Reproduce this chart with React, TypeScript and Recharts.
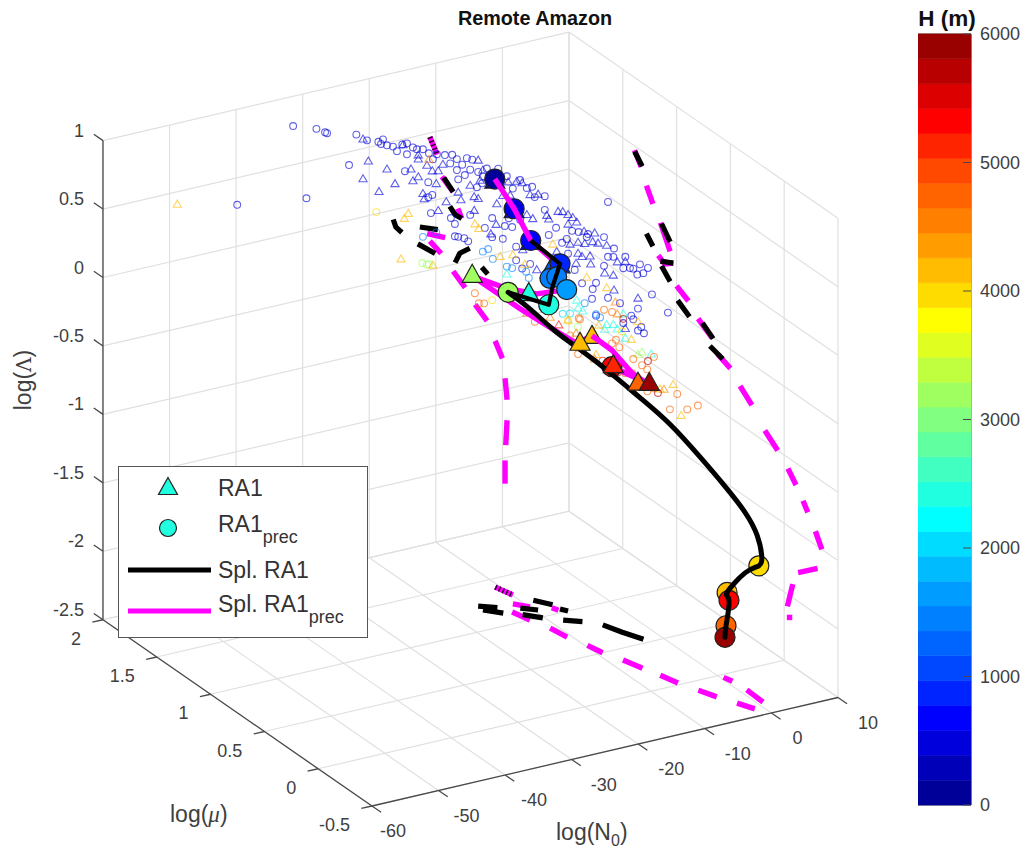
import { Bar, BarChart, ReferenceArea, Scatter, ScatterChart, XAxis, YAxis } from 'recharts'

// axis ticks
const N0_TICKS = [-60, -50, -40, -30, -20, -10, 0, 10]
const MU_TICKS = [-0.5, 0, 0.5, 1, 1.5, 2]
const LAMBDA_TICKS = [-2.5, -2, -1.5, -1, -0.5, 0, 0.5, 1]
const H_TICKS = [0, 1000, 2000, 3000, 4000, 5000, 6000]

// colormap, 31 levels from H = 0 up
const JET_BANDS = [
  '#000099', '#0000b8', '#0000dc', '#0000ff', '#0024ff', '#0048ff', '#0064ff', '#0080ff',
  '#009cff', '#00bcff', '#00dcff', '#00ffff', '#20ffe0', '#40ffc0', '#60ffa0', '#80ff80',
  '#a0ff60', '#c0ff40', '#e0ff20', '#ffff00', '#ffdc00', '#ffbc00', '#ff9c00', '#ff8000',
  '#ff6400', '#ff4800', '#ff2400', '#ff0000', '#dc0000', '#b80000', '#990000',
]

// small open markers [log N0, log Lambda], read at log mu = 1
const CLOUD_MU = 1
const blueCircles = [
  [-47.6, 1.51], [-44.1, 1.45], [-42.8, 1.41], [-42.5, 1.4], [-38.1, 1.34], [-36.5, 1.28], [-39.2, 1.13], [-45.6, 0.96],
  [-56, 1.03], [-30.8, 0.99], [-27.3, 0.87], [-27.3, 0.76], [-26.7, 0.77], [-26.9, 0.64], [-23.9, 0.57], [-21, 0.56],
  [-23.3, 0.52], [-18.8, 0.44], [-17.7, 0.5], [-15.8, 0.42], [-14.7, 0.4], [-15.2, 0.47], [-17.7, 0.36], [-16.1, 0.33],
  [-23.3, 0.43], [-22.8, 0.42], [-21.9, 0.4], [-21.3, 0.37], [-14.1, 0.25], [-14.1, 0.15], [-13.2, 0.08],
  [-34.1, 1.26], [-34.8, 1.25], [-34.4, 1.23], [-33.5, 1.21], [-32.6, 1.19], [-32, 1.15], [-31.2, 1.19], [-30.5, 1.19],
  [-29.6, 1.15], [-30.5, 1.11], [-29, 1.13], [-28.1, 1.12], [-27.2, 1.08], [-26, 1.06], [-26.6, 1.03], [-24.8, 1.04],
  [-23.7, 1.03], [-23, 0.99], [-24, 0.97], [-22.2, 0.94], [-21.5, 0.98], [-20.7, 0.96], [-23, 0.91], [-22.8, 0.84],
  [-21.8, 0.86], [-21, 0.89], [-19.8, 0.86], [-19.1, 0.82], [-20, 0.75], [-19.2, 0.77], [-18.5, 0.87], [-18, 0.77],
  [-16.8, 0.85], [-15.5, 0.78], [-13.5, 0.73], [-12.5, 0.66], [-11.7, 0.66], [-9.8, 0.57], [-11.3, 0.58], [-14.6, 0.68],
  [-0.3, 0.42], [-9.8, 0.47], [-13.5, 0.44], [-8.1, 0.32], [-5.7, 0.27], [-4.7, 0.25], [-3.3, 0.22], [-3.5, 0.2],
  [-6.5, 0.22], [-7.2, 0.2], [-9.2, 0.28], [-0.9, 0.17], [0.6, 0.07], [-6.3, 0.11], [-0.3, 0.02], [0.5, 0.01],
  [2.3, -0.01], [2, -0.09], [3, -0.1], [3.5, -0.11], [4.5, -0.09], [4.1, -0.16], [5, -0.16], [5.7, -0.13],
  [-0.9, -0.04], [-5.3, -0.02], [-12, 0.1], [-2.1, -0.15], [-2.6, -0.19], [-2.7, -0.26], [-4.2, -0.13], [6.3, -0.33],
  [-0.3, -0.28], [1.5, -0.34], [4.2, -0.41], [8.7, -0.49], [3.2, -0.45], [3.5, -0.48], [4.7, -0.55], [2, -0.49],
  [4.2, -0.57], [5.1, -0.6], [-2.1, -0.39],
]
const blueTriangles = [
  [-37.1, 1.3], [-36.3, 1.13], [-33.5, 1.04], [-37.1, 1.01], [-32.3, 0.92], [-34.7, 0.89], [-29.9, 1], [-28.8, 0.93],
  [-29.6, 0.91], [-26.1, 0.85], [-28.1, 0.8], [-27.9, 0.76], [-24.6, 0.7], [-22.4, 0.69], [-22.8, 0.75], [-20.4, 0.59],
  [-25.8, 0.65], [-17.1, 0.45], [-17.9, 0.39], [-31.1, 1.19], [-28.8, 1.06], [-27.5, 1], [-26.7, 0.95], [-25.8, 0.94],
  [-25.1, 0.98], [-21, 0.78], [-19.8, 0.95], [-19.1, 0.87], [-19.5, 0.8], [-20.4, 0.69], [-19.8, 0.67], [-14, 0.73],
  [-28.8, 1.09], [-17, 0.6], [-15.3, 0.74], [-13.2, 0.71], [-10.8, 0.6], [-12, 0.61], [-15, 0.64], [-16.1, 0.65],
  [-9.5, 0.43], [-9.2, 0.4], [-12.5, 0.47], [-11.6, 0.43], [-7.8, 0.44], [-7.1, 0.43], [-6.3, 0.4], [-5.6, 0.37],
  [-5, 0.33], [-6.3, 0.33], [-3.9, 0.25], [-2.3, 0.22], [-2.6, 0.16], [-3.8, 0.16], [-4.8, 0.18], [-6, 0.18],
  [-1.8, 0.14], [-0.5, 0.11], [-4.8, 0.1], [-4.2, 0.07], [-3, 0.06], [-2.9, 0], [1.1, -0.03], [2.3, -0.04],
  [-0.8, -0.09], [0.5, -0.12], [-8, 0.15], [-5.1, 0.03], [-11, 0.05], [-13.1, 0.22], [0.6, -0.23], [4.2, -0.33], [2.3, -0.53],
]
const lightBlueCircles = [
  [-19.1, 0.27], [-18.3, 0.28], [-17.6, 0.2], [-15.5, 0.12], [-14.7, 0.1], [-12.6, 0.05], [-12.2, 0], [-2.1, -0.38],
  [-1.5, -0.41], [-3.8, -0.28], [-28.1, 0.48], [-26.1, 0.49],
]
const cyanCircles = [[-7.1, -0.32], [-6, -0.33]]
const cyanTriangles = [
  [-5, -0.24], [-4.8, -0.3], [-4.1, -0.33], [-0.5, -0.47], [2, -0.42], [1.1, -0.52], [0.5, -0.48], [-0.8, -0.5],
  [2.3, -0.6], [6.2, -0.76], [-15.5, 0.07],
]
const greenCircles = [[-28.2, 0.29], [-27.5, 0.27], [-27.2, 0.27], [-4.8, -0.44]]
const greenTriangles = [[4.8, -0.73], [4.2, -0.74]]
const yellowCircles = [[-35.1, 0.74], [-17.7, -0.1], [-6.3, -0.38], [1.8, -0.55]]
const yellowTriangles = [
  [-65, 1.14], [-30.3, 0.68], [-30.9, 0.65], [-31.4, 0.36], [-26.6, 0.26], [-14.6, 0.2], [-16.5, 0.21], [-20.3, 0.49],
  [-19.7, 0.45], [-8.6, 0.21], [-12.8, 0.11], [-3.5, -0.09], [-0.5, -0.2], [-1.7, -0.46], [-6.3, -0.37], [4.2, -0.5],
  [3.2, -0.62], [-2.1, -0.67], [7.5, -1.03], [9.5, -1.02], [10.7, -1.26],
]
const orangeCircles = [
  [-20.3, -0.02], [-19.7, -0.1], [-18.9, -0.11], [-0.9, -0.36], [0.3, -0.39], [-4.5, -0.39], [-11.3, -0.33], [-4.7, -0.38],
  [-6, -0.49], [0.3, -0.62], [0.9, -0.6], [1.4, -0.66], [-4.8, -0.64], [6.6, -0.79], [3.5, -0.77], [4.8, -0.83],
  [5.6, -0.87], [2.3, -0.86], [3.3, -0.87], [4.1, -0.91], [5.6, -1.03], [6.6, -1.02], [10.1, -1.1], [9, -1.2],
  [11.6, -1.23], [13.2, -1.22],
]
const orangeTriangles = [
  [-27.2, 1.04], [0.8, -0.32], [1.1, -0.41], [-9, -0.32], [-12.5, -0.25], [-5.1, -0.48], [-2.3, -0.7], [8.1, -1.04],
]
const redTriangles = [[-7.7, -0.39]]
const redCircles = [[-1.1, -0.73]]
const darkRedCircles = [[2, -0.46], [5.7, -0.81], [1.2, -0.84], [7.2, -1.06]]

// large filled markers [log N0, log mu, log Lambda, H]
const ra1 = [
  [-17.3, 1, 0.78, 100], [-14.4, 1, 0.53, 450], [-11.9, 1, 0.27, 650], [-7.5, 1, 0.05, 850], [-9, 1, 0.03, 1300],
  [-12.2, 1, -0.1, 2400], [-20.7, 1, 0.13, 3200], [-2.7, 1, -0.52, 4150], [-4.5, 1, -0.55, 4150], [0.5, 1, -0.77, 5200],
  [4.2, 1, -0.94, 4700], [5.9, 1, -0.96, 5900],
]
const ra1Prec = [
  [-17.3, 1, 0.78, 100], [-14.4, 1, 0.53, 450], [-11.9, 1, 0.27, 650], [-7.5, 1, 0.05, 850], [-9, 1, -0.04, 1500],
  [-8, 1, -0.04, 1450], [-6.5, 1, -0.15, 1700], [-9.2, 1, -0.23, 2400], [-15.3, 1, -0.07, 3200], [0.3, 1, -0.79, 5300],
  [0.7, -0.34, -1.52, 3900], [0.38, -0.065, -1.86, 4150], [0.42, -0.08, -1.91, 5400], [0.62, -0.04, -2.12, 4700],
  [0.63, -0.03, -2.21, 5900],
]

// splines [log N0, log mu, log Lambda], in the order they pass the markers
const splineRa1Top = [[-11.9, 1, 0.27], [-7.5, 1, 0.05], [-8.6, 1, -0.1], [-9.2, 1, -0.23], [-15.3, 1, -0.07]]
const splineRa1 = [
  [-15.3, 1, -0.07], [-12, 1, -0.23], [-8.3, 1, -0.43], [-4.5, 1, -0.61], [0, 1, -0.83], [1.3, 0.8, -0.92], [1.7, 0.55, -0.98],
  [2.2, 0.3, -1.09], [2.7, 0.1, -1.2], [2.5, -0.1, -1.28], [1.9, -0.25, -1.36], [1.3, -0.33, -1.46], [0.7, -0.34, -1.52],
  [0.9, -0.2, -1.65], [0.38, -0.065, -1.86], [0.42, -0.08, -1.91], [0.62, -0.04, -2.12], [0.63, -0.03, -2.21],
]
const splinePrecTop = [[-17.3, 1, 0.78], [-14.4, 1, 0.53], [-11.9, 1, 0.27]]
const splinePrecMid = [
  [-11.9, 1, 0.27], [-7.5, 1, 0.03], [-6.5, 1, -0.15], [-11, 1, -0.13], [-15.5, 1, -0.04], [-20.7, 1, 0.11], [-13.5, 1, -0.21],
  [-7.5, 1, -0.46], [-5, 1, -0.56], [-2.7, 1, -0.53],
]
const splinePrecEnd = [[-2.7, 1, -0.53], [0.3, 1, -0.67], [3.3, 1, -0.87], [5.3, 1, -0.96], [0.3, 1, -0.79]]

// wall shadows, one list per dash: back wall [log N0, log Lambda] at log mu = 2
const backWallMagenta = [
  [[-10.9, 0.47], [-9.8, 0.33]], [[-9.1, 0.16], [-7.4, 0.03]], [[-6.7, -0.1], [-6.1, -0.18]], [[-11.3, -0.23], [-8.6, -0.29]],
  [[-10.9, -0.29], [-9.2, -0.4]], [[-7.4, -0.55], [-5.6, -0.69]], [[-4.1, -0.83], [-2.3, -0.97]], [[-1.1, -1.13], [0, -1.27]],
  [[0.4, -1.42], [0.7, -1.58]], [[0.7, -1.73], [0.5, -1.91]], [[0.4, -2.02], [0.4, -2.19]],
]
const backWallBlack = [
  [[-16.4, -0.07], [-16, -0.13], [-15.1, -0.18]], [[-12.4, -0.17], [-9.7, -0.22]], [[-12.7, -0.29], [-10.1, -0.39]],
  [[-7.1, -0.49], [-6.4, -0.43], [-4.9, -0.41]], [[-7.9, -0.07], [-7.1, -0.14], [-6.1, -0.18]], [[-8.8, 0.15], [-7.4, 0.03]],
  [[-3.1, -0.57], [-2.2, -0.63]],
]
// side wall [log mu, log Lambda] at log N0 = 10
const sideWallMagenta = [
  [[1.39, 0.47], [1.33, 0.38]], [[1.28, 0.27], [1.22, 0.17]], [[1.15, 0.07], [1.06, -0.09]], [[1.17, -0.18], [1.11, -0.21], [1.03, -0.16]],
  [[1, -0.31], [0.89, -0.36]], [[0.8, -0.44], [0.67, -0.51]], [[0.62, -0.6], [0.5, -0.64]], [[0.41, -0.72], [0.3, -0.8]],
  [[0.18, -0.92], [0.06, -1]], [[-0.035, -1.08], [-0.11, -1.16]], [[-0.175, -1.24], [-0.22, -1.3]], [[-0.29, -1.4], [-0.35, -1.5]],
  [[-0.31, -1.66], [-0.13, -1.79]], [[-0.08, -1.9], [-0.03, -2.09]], [[-0.05, -2.14], [-0.05, -2.18]],
]
const sideWallBlack = [
  [[1.39, 0.46], [1.32, 0.39]], [[1.28, -0.08], [1.22, -0.14]], [[1.14, 0.07], [1.06, -0.02]], [[1.15, -0.21], [1.03, -0.16]],
  [[1.14, -0.24], [1.06, -0.31]], [[0.99, -0.41], [0.88, -0.47]], [[0.76, -0.45], [0.66, -0.51]], [[0.69, -0.58], [0.57, -0.61]],
]
// floor [log N0, log mu] at log Lambda = -2.5
const floorMagenta = [
  [[-10.6, 1.41], [-9.9, 1.29]], [[-11.35, 1.2], [-9.92, 1.13]], [[-12.76, 1.12], [-12.04, 1]], [[-11.09, 0.87], [-10.64, 0.74]],
  [[-9.69, 0.61], [-9.19, 0.5]], [[-8.07, 0.38], [-7.24, 0.25]], [[-6.35, 0.14], [-5.63, 0.02]], [[-4.51, -0.1], [-3.52, -0.21]],
  [[-2.25, -0.32], [-1.2, -0.42]], [[0.84, -0.37], [0.99, -0.21]], [[0.77, -0.09], [0.41, -0.03]], [[-7.61, 1.07], [-7.26, 1.03]],
]
const floorBlack = [
  [[-15.6, 1.26], [-13.68, 1.2]], [[-15.69, 1.21], [-13.93, 1.13]], [[-11.21, 1.14], [-9.51, 1.08]], [[-12, 1.07], [-10.25, 0.99]],
  [[-8.45, 1.19], [-7.01, 1.1]], [[-6.87, 1.04], [-6.3, 1]], [[-8.33, 0.92], [-6.4, 0.86]], [[-4.64, 0.78], [-3.65, 0.66], [-2.41, 0.54]],
]

const FONT = '"Liberation Sans", Arial, sans-serif'
const TEXT = '#404040'
const GRID = '#e0e0e0'
const AXIS = '#4a4a4a'
const EDGE = '#222222'
const MAGENTA = '#ff00ff'

const N_RANGE = [-60, 10]
const M_RANGE = [-0.5, 2]
const L_RANGE = [-2.5, 1]
const N0_LABEL_DX = [21, 28, 29, 32, 33, 33, 26, 30]

// fixed view of the 3D box, gives plane coordinates for the hidden axes
const project = (n: number, m: number, l: number) => ({
  x: 6.657 * n - 107.6 * m + 717.6,
  y: -1.55 * n - 74.5 * m - 136.9 * l + 333.5,
})

const colorOf = (h: number) => JET_BANDS[Math.min(JET_BANDS.length - 1, Math.floor((h / 6000) * JET_BANDS.length))]

const line3 = (a: number[], b: number[]) => [project(a[0], a[1], a[2]), project(b[0], b[1], b[2])]

const gridSegments = [
  ...N0_TICKS.map((n) => line3([n, M_RANGE[0], L_RANGE[0]], [n, M_RANGE[1], L_RANGE[0]])),
  ...MU_TICKS.map((m) => line3([N_RANGE[0], m, L_RANGE[0]], [N_RANGE[1], m, L_RANGE[0]])),
  ...N0_TICKS.map((n) => line3([n, M_RANGE[1], L_RANGE[0]], [n, M_RANGE[1], L_RANGE[1]])),
  ...LAMBDA_TICKS.map((l) => line3([N_RANGE[0], M_RANGE[1], l], [N_RANGE[1], M_RANGE[1], l])),
  ...MU_TICKS.map((m) => line3([N_RANGE[1], m, L_RANGE[0]], [N_RANGE[1], m, L_RANGE[1]])),
  ...LAMBDA_TICKS.map((l) => line3([N_RANGE[1], M_RANGE[0], l], [N_RANGE[1], M_RANGE[1], l])),
]

const axisSegments = [
  line3([N_RANGE[0], M_RANGE[0], L_RANGE[0]], [N_RANGE[1], M_RANGE[0], L_RANGE[0]]),
  line3([N_RANGE[0], M_RANGE[0], L_RANGE[0]], [N_RANGE[0], M_RANGE[1], L_RANGE[0]]),
  line3([N_RANGE[0], M_RANGE[1], L_RANGE[0]], [N_RANGE[0], M_RANGE[1], L_RANGE[1]]),
  ...N0_TICKS.map((n) => line3([n, M_RANGE[0], L_RANGE[0]], [n, M_RANGE[0] - 0.085, L_RANGE[0]])),
  ...MU_TICKS.map((m) => line3([N_RANGE[0], m, L_RANGE[0]], [N_RANGE[0] - 1.6, m, L_RANGE[0]])),
  ...LAMBDA_TICKS.map((l) => line3([N_RANGE[0], M_RANGE[1], l], [N_RANGE[0], M_RANGE[1] + 0.085, l])),
]

const backPts = (d: number[][]) => d.map(([n, l]) => project(n, M_RANGE[1], l))
const sidePts = (d: number[][]) => d.map(([m, l]) => project(N_RANGE[1], m, l))
const floorPts = (d: number[][]) => d.map(([n, m]) => project(n, m, L_RANGE[0]))

const magentaDashes = [...backWallMagenta.map(backPts), ...sideWallMagenta.map(sidePts), ...floorMagenta.map(floorPts)]
const blackDashes = [...backWallBlack.map(backPts), ...sideWallBlack.map(sidePts), ...floorBlack.map(floorPts)]
const stripedDashes = [backPts(backWallMagenta[0]), floorPts(floorMagenta[0])]

const tickLabels = [
  ...N0_TICKS.map((n, i) => ({ ...project(n, M_RANGE[0], L_RANGE[0]), label: String(n), dx: N0_LABEL_DX[i], dy: 31, anchor: 'middle' })),
  ...MU_TICKS.map((m) => ({ ...project(N_RANGE[0], m, L_RANGE[0]), label: String(m), dx: -22, dy: 25, anchor: 'end' })),
  ...LAMBDA_TICKS.map((l) => ({ ...project(N_RANGE[0], M_RANGE[1], l), label: String(l), dx: -19, dy: -4, anchor: 'end' })),
]

const cloudPoints = (pairs: number[][]) => pairs.map(([n, l]) => project(n, CLOUD_MU, l))
const markerPoints = (rows: number[][]) => rows.map(([n, m, l, h]) => ({ ...project(n, m, l), h }))

const trianglePath = (cx: number, cy: number, w: number, h: number) =>
  `M${cx},${cy - h / 2}L${cx + w / 2},${cy + h / 2}L${cx - w / 2},${cy + h / 2}Z`

const cloudSeries: [number[][], number, string][] = [
  [blueTriangles, 400, 't'],
  [blueCircles, 400, 'c'],
  [lightBlueCircles, 1500, 'c'],
  [cyanCircles, 2100, 'c'],
  [cyanTriangles, 2400, 't'],
  [greenCircles, 3100, 'c'],
  [greenTriangles, 3100, 't'],
  [yellowCircles, 3950, 'c'],
  [yellowTriangles, 4100, 't'],
  [orangeCircles, 4800, 'c'],
  [orangeTriangles, 4500, 't'],
  [redCircles, 5300, 'c'],
  [redTriangles, 5300, 't'],
  [darkRedCircles, 5800, 'c'],
]

const noMarker = () => <g />

function pathSeries(
  key: string,
  data: { x: number; y: number }[],
  stroke: string,
  width: number,
  opts: { joint?: string; cap?: string; dash?: string } = {},
) {
  return (
    <Scatter
      key={key}
      data={data}
      shape={noMarker}
      line={{
        stroke,
        strokeWidth: width,
        strokeLinecap: opts.cap || 'butt',
        strokeLinejoin: 'round',
        strokeDasharray: opts.dash,
        fill: 'none',
      }}
      lineJointType={(opts.joint || 'linear') as any}
      isAnimationActive={false}
    />
  )
}

const smallCircle = (p: any, color: string) => (
  <circle cx={p.cx} cy={p.cy} r={3.4} fill="none" stroke={color} strokeWidth={1.1} strokeOpacity={0.62} />
)
const smallTriangle = (p: any, color: string) => (
  <path d={trianglePath(p.cx, p.cy, 8.2, 7)} fill="none" stroke={color} strokeWidth={1.1} strokeOpacity={0.62} />
)

const bigTriangle = (p: any) => (
  <path d={trianglePath(p.cx, p.cy, 20, 18)} fill={colorOf(p.payload.h)} stroke={EDGE} strokeWidth={1.2} />
)
const bigCircle = (p: any) => (
  <circle cx={p.cx} cy={p.cy} r={10} fill={colorOf(p.payload.h)} stroke={EDGE} strokeWidth={1.2} />
)
const tickText = (p: any) => (
  <text
    x={p.cx + p.payload.dx}
    y={p.cy + p.payload.dy}
    textAnchor={p.payload.anchor}
    fontSize={18}
    fontFamily={FONT}
    fill={TEXT}
  >
    {p.payload.label}
  </text>
)

const bandRow = [Object.fromEntries(JET_BANDS.map((_, i) => [`b${i}`, 6000 / JET_BANDS.length]))]

const colorbarTick = (p: any) => (
  <g>
    <line x1={p.x - 8} x2={p.x} y1={p.y} y2={p.y} stroke={AXIS} strokeWidth={1} />
    <text x={p.x + 9} y={p.y + 6} fontSize={18} fontFamily={FONT} fill={TEXT}>
      {p.payload.value}
    </text>
  </g>
)

function Colorbar() {
  return (
    <div style={{ position: 'absolute', left: 918, top: 24 }}>
      <BarChart
        width={107}
        height={791}
        data={bandRow}
        margin={{ top: 10, right: 0, bottom: 10, left: 0 }}
        barCategoryGap={0}
      >
        <XAxis type="category" hide />
        <YAxis
          orientation="right"
          type="number"
          domain={[0, 6000]}
          ticks={H_TICKS}
          width={54}
          interval={0}
          axisLine={false}
          tickLine={false}
          tickSize={0}
          tickMargin={0}
          tick={colorbarTick}
        />
        {JET_BANDS.map((c, i) => (
          <Bar key={c} dataKey={`b${i}`} stackId="h" fill={c} stroke={c} strokeWidth={0.6} isAnimationActive={false} />
        ))}
        <ReferenceArea y1={0} y2={6000} fill="none" stroke={AXIS} strokeWidth={1} ifOverflow="visible" />
      </BarChart>
    </div>
  )
}

function Legend() {
  const row = { position: 'absolute', left: 99, whiteSpace: 'nowrap', lineHeight: 1 } as const
  const sub = { fontSize: 18, verticalAlign: -11, lineHeight: 0 }
  return (
    <div
      style={{
        position: 'absolute',
        left: 118,
        top: 466,
        width: 248,
        height: 170,
        background: '#fff',
        border: '1px solid #555',
        fontFamily: FONT,
        fontSize: 23,
        color: '#333',
      }}
    >
      <svg width={248} height={170} style={{ position: 'absolute', left: 0, top: 0 }}>
        <path d={trianglePath(49, 19, 19, 17)} fill={colorOf(2400)} stroke={EDGE} strokeWidth={1.2} />
        <circle cx={49} cy={61} r={8.5} fill={colorOf(2400)} stroke={EDGE} strokeWidth={1.2} />
        <line x1={9} x2={92} y1={103} y2={103} stroke="#000" strokeWidth={5} />
        <line x1={9} x2={92} y1={144} y2={144} stroke={MAGENTA} strokeWidth={5} />
      </svg>
      <div style={{ ...row, top: 10 }}>RA1</div>
      <div style={{ ...row, top: 46 }}>
        RA1<span style={sub}>prec</span>
      </div>
      <div style={{ ...row, top: 92 }}>Spl. RA1</div>
      <div style={{ ...row, top: 126 }}>
        Spl. RA1<span style={sub}>prec</span>
      </div>
    </div>
  )
}

const labelBase = { position: 'absolute', fontFamily: FONT, color: TEXT, whiteSpace: 'nowrap', lineHeight: 1 } as const

export default function App() {
  return (
    <div style={{ position: 'absolute', left: 0, top: 0, width: 1025, height: 852, background: '#fff', overflow: 'hidden' }}>
      <ScatterChart width={1025} height={852} margin={{ top: 0, right: 0, bottom: 0, left: 0 }}>
        <XAxis type="number" dataKey="x" domain={[0, 1025]} hide />
        <YAxis type="number" dataKey="y" domain={[0, 852]} reversed hide />

        {gridSegments.map((s, i) => pathSeries(`grid${i}`, s, GRID, 1.2))}
        {axisSegments.map((s, i) => pathSeries(`axis${i}`, s, AXIS, 1.3))}

        {magentaDashes.map((s, i) => pathSeries(`wm${i}`, s, MAGENTA, 5.4))}
        {blackDashes.map((s, i) => pathSeries(`wb${i}`, s, '#000', 5.2))}
        {stripedDashes.map((s, i) => pathSeries(`ws${i}`, s, '#300030', 5.4, { dash: '1.5 2.5' }))}

        {cloudSeries.map(([pairs, h, kind], i) => (
          <Scatter
            key={`cloud${i}`}
            data={cloudPoints(pairs)}
            shape={(p: any) => (kind === 'c' ? smallCircle(p, colorOf(h)) : smallTriangle(p, colorOf(h)))}
            isAnimationActive={false}
          />
        ))}

        {pathSeries('precMid', markerPoints(splinePrecMid), MAGENTA, 5.4, { cap: 'round' })}
        <Scatter data={markerPoints(ra1.filter((r) => r[3] < 4000))} shape={bigTriangle} isAnimationActive={false} />
        <Scatter data={markerPoints(ra1Prec)} shape={bigCircle} isAnimationActive={false} />
        {pathSeries('precTop', markerPoints(splinePrecTop), MAGENTA, 5.4)}
        {pathSeries('ra1Top', markerPoints(splineRa1Top), '#000', 4.2)}
        {pathSeries('ra1', markerPoints(splineRa1), '#000', 5, { joint: 'natural', cap: 'round' })}
        <Scatter data={markerPoints(ra1.filter((r) => r[3] >= 4000 && r[0] < -2))} shape={bigTriangle} isAnimationActive={false} />
        {pathSeries('precEnd', markerPoints(splinePrecEnd), MAGENTA, 5.4)}
        <Scatter data={markerPoints(ra1.filter((r) => r[3] >= 4000 && r[0] >= 0))} shape={bigTriangle} isAnimationActive={false} />

        <Scatter data={tickLabels} shape={tickText} isAnimationActive={false} />
      </ScatterChart>

      <Colorbar />
      <Legend />

      <div style={{ ...labelBase, left: 0, top: 9, width: 1070, textAlign: 'center', fontSize: 19.8, fontWeight: 700, color: '#111' }}>
        Remote Amazon
      </div>
      <div style={{ ...labelBase, left: 917, top: 8, width: 60, textAlign: 'center', fontSize: 22.5, fontWeight: 700, color: '#111' }}>
        H (m)
      </div>
      <div style={{ ...labelBase, left: 23, top: 380, fontSize: 23, transform: 'translate(-50%, -50%) rotate(-90deg)' }}>
        log(<span style={{ fontFamily: '"DejaVu Serif", serif', fontSize: 20 }}>Λ</span>)
      </div>
      <div style={{ ...labelBase, left: 170, top: 803, fontSize: 23 }}>
        log(<i style={{ fontFamily: '"Liberation Serif", serif' }}>μ</i>)
      </div>
      <div style={{ ...labelBase, left: 556, top: 821, fontSize: 23 }}>
        log(N<span style={{ fontSize: 16, verticalAlign: -6, lineHeight: 0 }}>0</span>)
      </div>
    </div>
  )
}
